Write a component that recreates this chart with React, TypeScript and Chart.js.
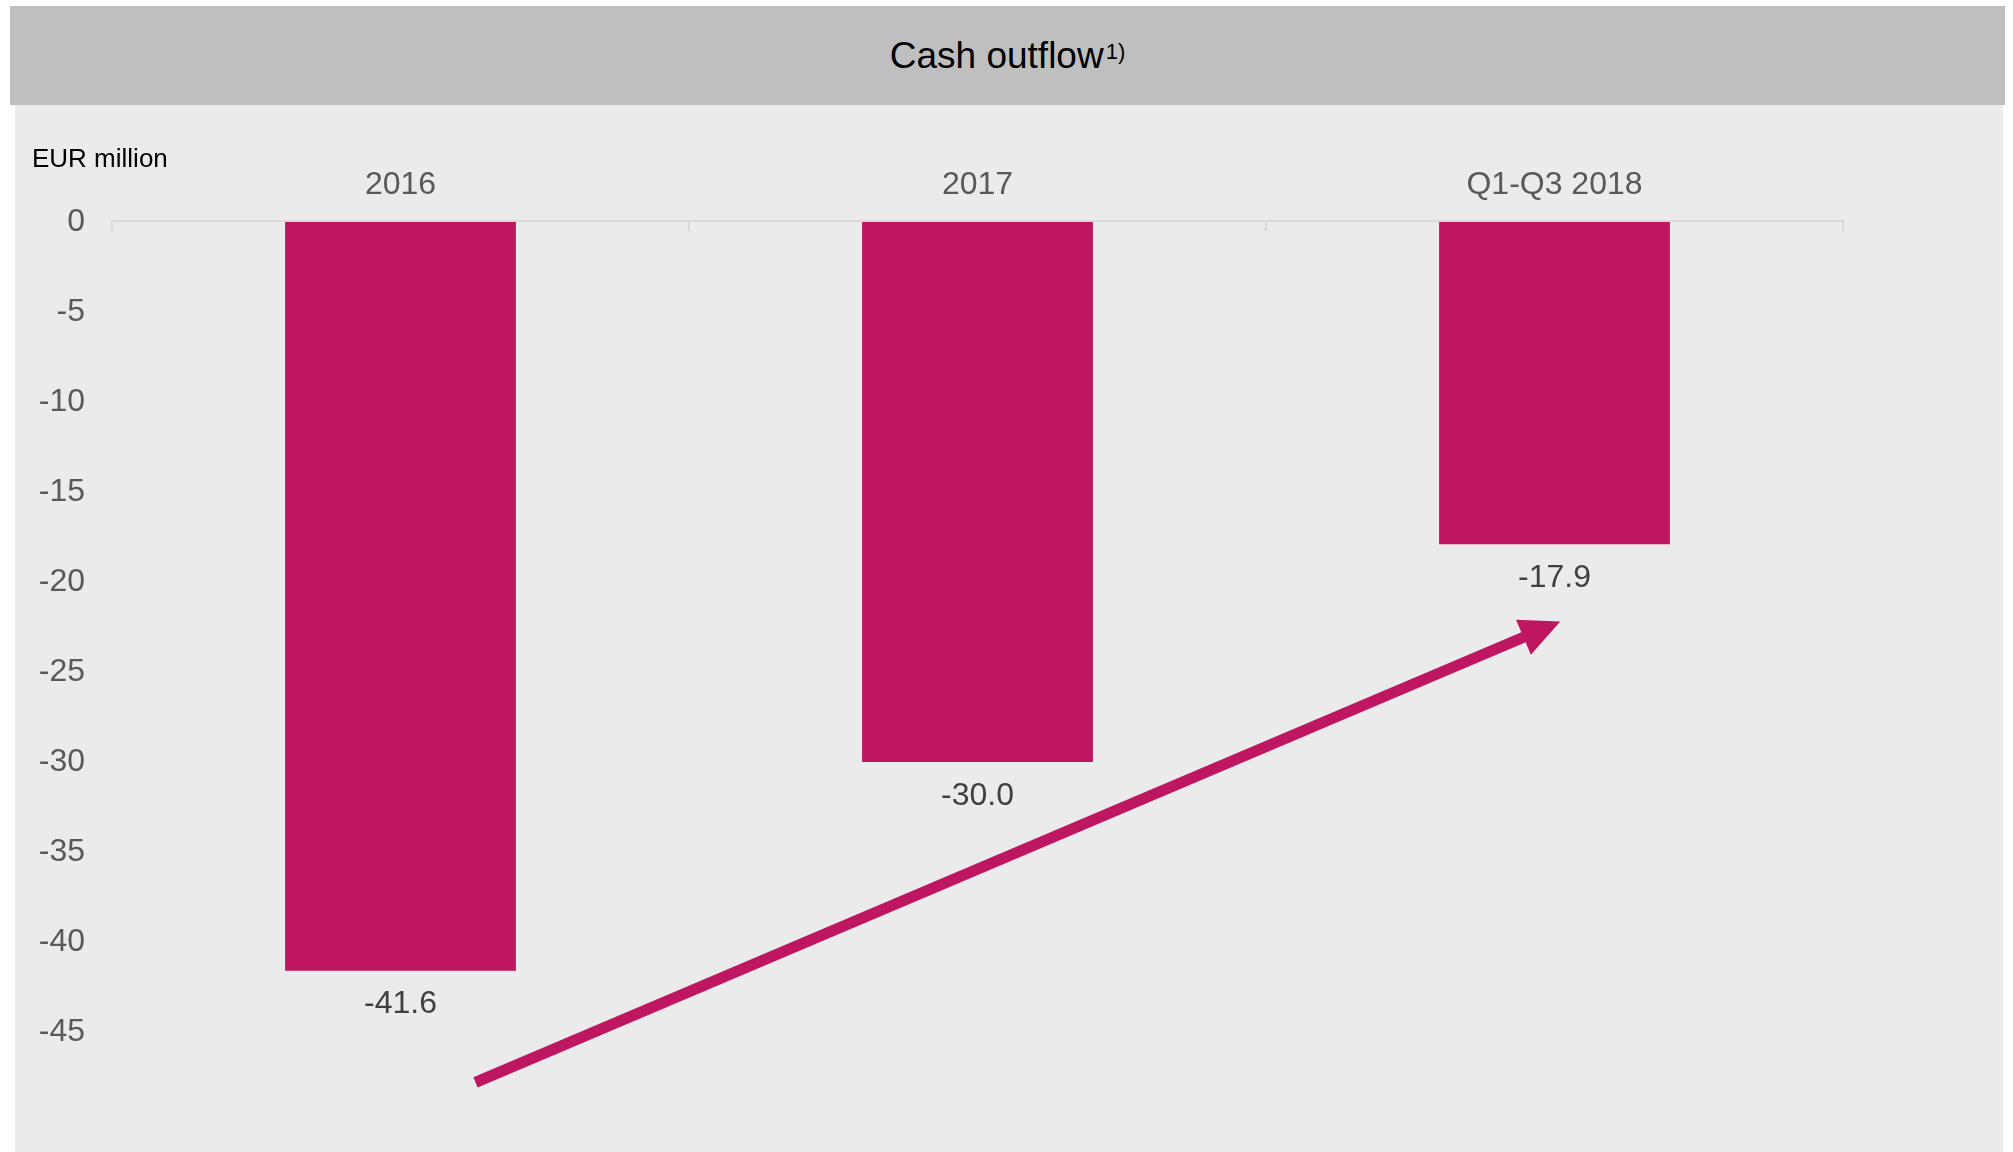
import React, { useEffect, useRef } from "react";
import { Chart, registerables } from "chart.js";

Chart.register(...registerables);

const categories: string[] = ["2016", "2017", "Q1-Q3 2018"];
const cashOutflow: number[] = [-41.6, -30.0, -17.9];
const valueLabels: string[] = ["-41.6", "-30.0", "-17.9"];
const yTickValues: number[] = [0, -5, -10, -15, -20, -25, -30, -35, -40, -45];
// annotation arrow in data coordinates (category index, EUR million)
const arrowStart: number[] = [0.13, -47.8];
const arrowEnd: number[] = [2.01, -22.2];

const FONT = "'Liberation Sans', Arial, Helvetica, sans-serif";
const BAR_COLOR = "#BE1660";

export default function App() {
  const canvasRef = useRef<HTMLCanvasElement | null>(null);

  useEffect(() => {
    const canvas = canvasRef.current;
    if (!canvas) return;

    const overlay = {
      id: "overlay",
      beforeDatasetsDraw(chart: any) {
        const ctx = chart.ctx;
        const xs = chart.scales.x;
        const ys = chart.scales.y;
        const y0 = ys.getPixelForValue(0);
        ctx.save();
        ctx.strokeStyle = "#D9D9D9";
        ctx.lineWidth = 2;
        ctx.beginPath();
        ctx.moveTo(chart.chartArea.left, y0 - 1);
        ctx.lineTo(chart.chartArea.right, y0 - 1);
        for (let i = 0; i <= categories.length; i++) {
          const px = Math.round(xs.getPixelForValue(i - 0.5));
          ctx.moveTo(px, y0 - 2);
          ctx.lineTo(px, y0 + 9);
        }
        ctx.stroke();
        ctx.restore();
      },
      afterDatasetsDraw(chart: any) {
        const ctx = chart.ctx;
        const xs = chart.scales.x;
        const ys = chart.scales.y;
        ctx.save();
        // value labels
        ctx.font = `32px ${FONT}`;
        ctx.fillStyle = "#404040";
        ctx.textAlign = "center";
        ctx.textBaseline = "alphabetic";
        cashOutflow.forEach((v, i) => {
          const px = xs.getPixelForValue(i);
          const py = ys.getPixelForValue(v);
          ctx.fillText(valueLabels[i], px, py + 42.5);
        });
        // unit label
        ctx.font = `26px ${FONT}`;
        ctx.fillStyle = "#000000";
        ctx.textAlign = "left";
        ctx.fillText("EUR million", 17, 62);
        // arrow
        const x1 = xs.getPixelForValue(arrowStart[0]);
        const y1 = ys.getPixelForValue(arrowStart[1]);
        const x2 = xs.getPixelForValue(arrowEnd[0]);
        const y2 = ys.getPixelForValue(arrowEnd[1]);
        const ang = Math.atan2(y2 - y1, x2 - x1);
        const headLen = 40;
        const headHalf = 19;
        const bx = x2 - headLen * Math.cos(ang);
        const by = y2 - headLen * Math.sin(ang);
        ctx.strokeStyle = BAR_COLOR;
        ctx.fillStyle = BAR_COLOR;
        ctx.lineWidth = 11;
        ctx.lineCap = "butt";
        ctx.beginPath();
        ctx.moveTo(x1, y1);
        ctx.lineTo(bx + 2 * Math.cos(ang), by + 2 * Math.sin(ang));
        ctx.stroke();
        ctx.beginPath();
        ctx.moveTo(x2, y2);
        ctx.lineTo(bx - headHalf * Math.sin(ang), by + headHalf * Math.cos(ang));
        ctx.lineTo(bx + headHalf * Math.sin(ang), by - headHalf * Math.cos(ang));
        ctx.closePath();
        ctx.fill();
        ctx.restore();
      },
    };

    const chart = new Chart(canvas, {
      type: "bar",
      data: {
        labels: categories,
        datasets: [
          {
            data: cashOutflow,
            backgroundColor: BAR_COLOR,
            borderWidth: 0,
            barPercentage: 0.4,
            categoryPercentage: 1,
          },
        ],
      },
      options: {
        animation: false,
        responsive: false,
        maintainAspectRatio: false,
        layout: { padding: { left: 0, top: 0, right: 160, bottom: 66 } },
        plugins: {
          legend: { display: false },
          tooltip: { enabled: false },
          title: { display: false },
        },
        scales: {
          x: {
            position: "top",
            grid: { display: false, drawTicks: false },
            border: { display: false },
            ticks: {
              color: "#595959",
              font: { size: 32, family: FONT },
              padding: 18,
              maxRotation: 0,
            },
            afterFit: (s: any) => {
              s.height = 117;
            },
          },
          y: {
            min: -48,
            max: 0,
            grid: { display: false, drawTicks: false },
            border: { display: false },
            ticks: {
              stepSize: 5,
              color: "#595959",
              font: { size: 32, family: FONT },
              padding: 27,
            },
            afterBuildTicks: (s: any) => {
              s.ticks = yTickValues.map((v) => ({ value: v }));
            },
            afterFit: (s: any) => {
              s.width = 97;
            },
          },
        },
      },
      plugins: [overlay],
    });

    return () => {
      chart.destroy();
    };
  }, []);

  return (
    <div
      style={{
        position: "absolute",
        left: 0,
        top: 0,
        width: 2013,
        height: 1152,
        background: "#FFFFFF",
        overflow: "hidden",
        fontFamily: FONT,
      }}
    >
      <div
        style={{
          position: "absolute",
          left: 10,
          top: 6,
          width: 1995,
          height: 99,
          background: "#BFBFBF",
          display: "flex",
          alignItems: "center",
          justifyContent: "center",
          color: "#000000",
          fontSize: 37,
        }}
      >
        <span>
          Cash outflow
          <span style={{ fontSize: 22, position: "relative", top: -9, marginLeft: 2 }}>1)</span>
        </span>
      </div>
      <div
        style={{
          position: "absolute",
          left: 15,
          top: 105,
          width: 1988,
          height: 1047,
          background: "#EBEBEB",
        }}
      >
        <canvas
          ref={canvasRef}
          width={1988}
          height={1047}
          style={{ width: 1988, height: 1047, display: "block" }}
        />
      </div>
    </div>
  );
}
